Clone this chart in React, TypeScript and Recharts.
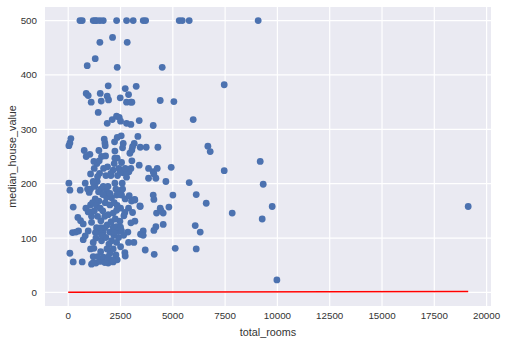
import React from "react";
import { ScatterChart, Scatter, XAxis, YAxis, CartesianGrid } from "recharts";

// total_rooms values of the sample points
const totalRooms: number[] = [
  560, 670, 1195, 1290, 1360, 1515, 1675, 2313, 2790, 3107, 3585, 3700, 5306, 5450, 5784, 9080,
  1514, 2119, 2820, 1291, 908, 2342, 4493, 7457, 1912, 3250, 2725, 860, 956, 1530, 1864, 1928, 2486, 2884,
  1099, 1577, 2788, 2996, 3043, 4398, 5051, 1434, 5975, 2103, 2310, 2438, 2502, 1864, 2788, 2996, 3394, 4063,
  32, 80, 127, 765, 1036, 860, 1466, 1721, 1753, 1769, 1593, 1785, 1227, 1370, 1689, 2342, 2534, 2215, 2597,
  2629, 2948, 3043, 3155, 3075, 3330, 3442, 3729, 4286, 6676, 6788, 7457, 9178, 9321, 5784, 4923, 4669, 4254,
  4063, 3840, 3840, 4190, 4095, 3394, 3043, 2996, 2900, 2788, 2630, 2342, 2231, 2422, 2151, 2040, 1800, 2358,
  2486, 2725, 1498, 1068, 1243, 2231, 2199, 1482, 2550, 1880, 2040,
  32, 80, 574, 813, 1004, 924, 1068, 1275, 1386, 1402, 1211, 1561, 1832, 1896, 2071, 2278, 2406, 2534, 2550,
  2310, 2725, 2916, 3027, 3171, 3426, 2884, 2502, 2709, 3075, 2661, 3187, 2996, 2470, 4063, 4095, 5003, 6119,
  6597, 4812, 4398, 4222, 4541, 4446, 3442, 7839, 9751, 19120, 9273, 6071, 6310, 4541, 4190, 4095, 3585, 3458,
  3585, 3139, 2884, 3681, 4111, 5115, 6119, 9975, 80, 239, 669, 207, 239, 494, 366, 462, 590, 717, 717, 813,
  956, 845, 956, 1068, 1115, 1068, 1195, 1115, 1323, 1514, 1673, 1912, 2040, 2151, 2278, 2502, 2709, 2725,
  2852, 2406, 2183, 1673, 1434, 1195, 1323, 1593, 1944, 2071, 2310, 1864, 2151, 2310, 1753, 1561, 1402, 1912,
  2151, 2310, 1992, 1769, 1466, 1291, 1163, 1354, 1530, 1832, 2199, 2342, 1992, 1673, 2231, 2581, 1354, 1561,
  1227, 1402, 1992, 2342, 1800, 2390, 2550, 1992, 1195, 1115, 1036, 3187, 2600, 2450, 1900, 1750, 2050, 2250,
  1650, 1250, 1450, 1650, 2150, 1850, 1550, 1300, 2500, 2650, 1750, 1200, 2100, 1900, 1600, 2200,
];

// median_house_value (thousands) of the sample points
const medianHouseValue: number[] = [
  500, 500, 500, 500, 500, 500, 500, 500, 500, 500, 500, 500, 500, 500, 500, 500,
  460, 469, 460, 430, 417, 414, 414, 382, 380, 379, 375, 366, 362, 366, 361, 354, 358, 364,
  350, 352, 350, 350, 350, 353, 351, 331, 318, 318, 324, 322, 315, 311, 311, 309, 316, 307,
  270, 275, 283, 261, 254, 250, 261, 282, 275, 270, 250, 251, 241, 237, 228, 285, 288, 277, 266,
  274, 256, 262, 274, 268, 287, 267, 267, 267, 269, 259, 224, 241, 199, 202, 230, 204, 228,
  222, 228, 210, 210, 218, 234, 242, 228, 222, 212, 220, 247, 247, 228, 225, 215, 215, 215,
  221, 228, 219, 218, 228, 260, 237, 242, 239, 231, 219,
  201, 188, 188, 201, 184, 190, 190, 195, 204, 213, 201, 190, 186, 179, 174, 190, 184, 188, 179,
  179, 172, 178, 168, 171, 159, 155, 155, 147, 147, 141, 131, 128, 131, 179, 171, 179, 180,
  164, 157, 155, 146, 146, 150, 158, 146, 158, 158, 135, 123, 111, 125, 121, 114, 113, 107,
  105, 92, 92, 78, 70, 81, 80, 23, 72, 56, 56, 110, 157, 113, 111, 138, 132, 126, 97, 104,
  113, 155, 148, 161, 129, 80, 66, 52, 54, 57, 65, 54, 58, 56, 69, 84, 73, 67,
  111, 101, 105, 111, 111, 92, 100, 95, 89, 95, 92, 124, 120, 121, 119, 132, 140, 143,
  146, 151, 161, 165, 168, 172, 165, 160, 155, 175, 165, 160, 182, 195, 201, 201, 119, 119,
  81, 66, 72, 60, 101, 113, 113, 111, 204, 140, 148, 170, 190, 180, 195, 140, 130, 135,
  150, 150, 185, 180, 80, 80, 75, 110, 120, 105, 55, 55, 60, 65, 105, 110,
];

// fitted (prediction) line endpoints
const lineRooms: number[] = [0, 19120];
const lineValue: number[] = [0.3, 1.6];

const xTicks: number[] = [0, 2500, 5000, 7500, 10000, 12500, 15000, 17500, 20000];
const yTicks: number[] = [0, 100, 200, 300, 400, 500];

const points = totalRooms.map((x, i) => ({ x, y: medianHouseValue[i] }));
const linePts = lineRooms.map((x, i) => ({ x, y: lineValue[i] }));

const FONT = "'Liberation Sans', Arial, sans-serif";

const Dot = (props: any) => {
  const { cx, cy } = props;
  if (cx == null || cy == null) return <g />;
  return <circle cx={cx} cy={cy} r={3.4} fill="#4C72B0" />;
};

const NoDot = () => <g />;

export default function App() {
  return (
    <div style={{ position: "absolute", left: 0, top: 0, width: 507, height: 344, background: "#fff" }}>
      <ScatterChart
        width={507}
        height={344}
        margin={{ top: 7, right: 16, bottom: 0, left: 0 }}
      >
        <CartesianGrid
          fill="#EAEAF2"
          stroke="#ffffff"
          strokeWidth={1.2}
          horizontalValues={yTicks}
          verticalValues={xTicks}
        />
        <XAxis
          type="number"
          dataKey="x"
          domain={[-1110, 20210]}
          ticks={xTicks}
          allowDataOverflow
          axisLine={false}
          tickLine={false}
          tickSize={0}
          tickMargin={6}
          height={38}
          tick={{ fill: "#333", fontSize: 9.8, fontFamily: FONT }}
          label={{
            value: "total_rooms",
            position: "center",
            dy: 7,
            style: { fill: "#333", fontSize: 10.8, fontFamily: FONT },
          }}
        />
        <YAxis
          type="number"
          dataKey="y"
          domain={[-25, 525]}
          ticks={yTicks}
          allowDataOverflow
          axisLine={false}
          tickLine={false}
          tickSize={0}
          tickMargin={8}
          width={45}
          tick={{ fill: "#333", fontSize: 9.8, fontFamily: FONT }}
          label={{
            value: "median_house_value",
            angle: -90,
            position: "center",
            dx: -10,
            style: { fill: "#333", fontSize: 10.8, fontFamily: FONT, textAnchor: "middle" },
          }}
        />
        <Scatter data={points} shape={Dot} isAnimationActive={false} />
        <Scatter
          data={linePts}
          line={{ stroke: "#ff0000", strokeWidth: 1.6 }}
          shape={NoDot}
          isAnimationActive={false}
        />
      </ScatterChart>
    </div>
  );
}
